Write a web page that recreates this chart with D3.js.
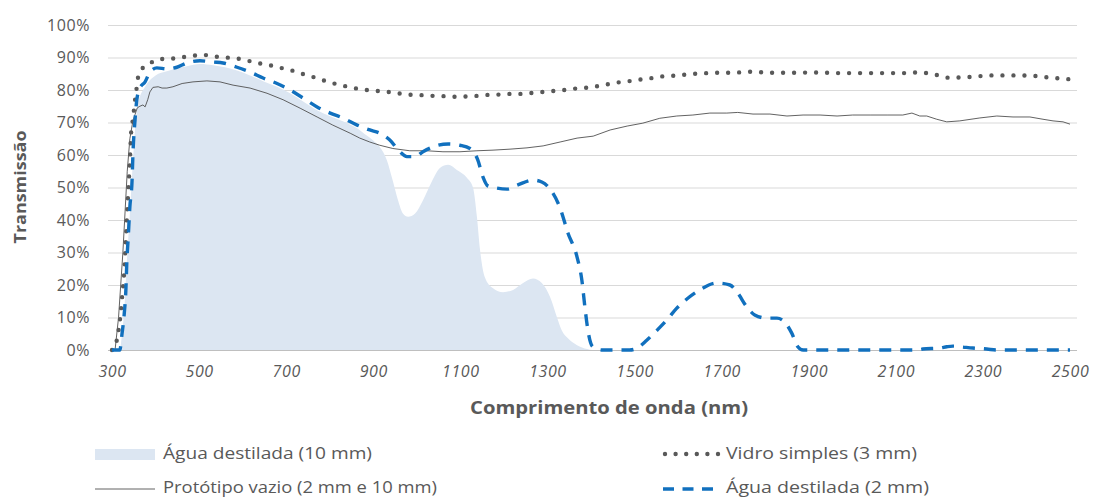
<!DOCTYPE html>
<html>
<head>
<meta charset="utf-8">
<script src="https://cdn.jsdelivr.net/npm/d3@7"></script>
<style>
  html, body { margin: 0; padding: 0; background: #fff; }
  svg { display: block; font-family: "Open Sans", "Noto Sans", sans-serif; }
</style>
</head>
<body>
<svg id="chart" width="1099" height="498"></svg>
<script>
// Transmission spectra (wavelength in nm, transmission in %)
const vidroNm = [300,306,311,318,323,328,333,337,341,344,348,353,356,360,369,385,408,433,458,484,509,537,562,587,612,638,663,688,713,736,762,785,810,835,860,886,911,936,961,989,1014,1037,1062,1090,1113,1138,1163,1189,1214,1239,1264,1290,1315,1340,1368,1391,1416,1439,1466,1492,1517,1542,1565,1590,1616,1641,1666,1692,1714,1737,1765,1816,1864,1917,1965,2018,2068,2118,2146,2171,2194,2220,2270,2321,2369,2422,2447,2500];
const vidroVal = [0,0.5,3,9,16,24,37,48,58,67,71,77,80,84,86.5,88,89.5,89.6,90,90.5,90.8,90.3,90,89.7,89,88.2,87.6,86.8,86,85,84,83,82,81.2,80.5,80,79.7,79.4,78.9,78.5,78.4,78.2,78.1,77.9,78,78.2,78.5,78.6,78.8,78.8,79.1,79.4,79.7,80,80.5,80.7,81.2,81.8,82.4,82.8,83.3,83.7,84.2,84.4,84.7,85,85.2,85.3,85.3,85.4,85.6,85.3,85.3,85.4,85.2,85.2,85.2,85.2,85.4,85.2,84.6,83.8,84,84.5,84.5,84.3,83.9,83.3];

const prototipoNm = [300,307,315,325,335,341,348,353,358,364,371,376,382,387,394,406,415,426,440,461,486,518,548,578,617,656,693,732,771,807,847,869,892,915,945,984,1023,1060,1099,1138,1175,1214,1253,1290,1329,1368,1405,1444,1483,1519,1558,1597,1634,1673,1712,1737,1772,1811,1850,1887,1926,1965,2001,2041,2080,2116,2137,2155,2171,2194,2217,2247,2293,2332,2369,2408,2438,2461,2484,2500];
const prototipoVal = [0,0,10,30,55,65,70.5,72.5,74.5,75,75.4,74.8,77,79.4,80.8,81,80.6,80.6,81,82,82.5,82.8,82.5,81.5,80.6,79,77,74.4,71.7,69.2,66.7,65.2,64,63,62,61.3,61.3,61,61,61.3,61.5,61.8,62.2,62.8,64,65.2,65.8,67.7,68.9,69.8,71.3,72,72.3,72.9,72.9,73.1,72.6,72.6,72,72.3,72.3,72,72.3,72.3,72.3,72.3,72.9,72,72,71,70.2,70.5,71.4,72,71.7,71.7,71,70.5,70.2,69.5];

const agua2Nm = [300,318,323,328,332,334,337,341,346,348,353,357,364,376,387,403,426,449,472,502,532,555,587,617,647,679,709,739,771,801,830,863,892,915,938,961,977,996,1014,1037,1072,1099,1122,1140,1152,1163,1184,1207,1232,1267,1287,1306,1329,1347,1368,1379,1386,1393,1404,1427,1489,1506,1528,1551,1574,1597,1623,1650,1689,1719,1737,1758,1776,1804,1827,1850,1861,1875,1887,2148,2162,2201,2217,2231,2254,2277,2309,2332,2500];
const agua2Val = [0,0,5,11,19,27,34,44,52,60,71,77,80.6,82.5,85.5,86.8,86.5,87,88.3,89,88.6,88.3,87,85.5,83.7,82,80,77.5,74.8,72.9,71.4,69.2,67.7,66.7,64.6,61,59.5,59.5,61,62.5,63.4,63,62,58.5,53.2,50.5,49.8,49.5,50.8,52.3,51.7,49.5,43.7,36,28.6,21.5,13.2,6,1,0,0,0.6,3,6,9.2,12.9,16,18.5,20.6,20,17.5,13.2,10.8,9.8,9.8,7.7,5.2,1,0,0,0.3,0.6,1,1.2,0.9,0.6,0.3,0,0];

const agua10Nm = [300,318,323,328,334,341,348,353,360,376,400,426,472,502,532,587,617,647,679,709,739,771,801,830,863,880,900,915,931,945,957,968,980,996,1014,1035,1053,1072,1092,1115,1129,1138,1145,1156,1175,1198,1221,1244,1267,1287,1306,1322,1333,1347,1368,1391,1404,2500];
const agua10Val = [0,0,5,12,27,42,58,68,76,81,84.5,85.8,87.3,88,87.6,86,84.5,82.7,81,79,76.5,73.8,71.9,70.4,68.2,66.5,64.5,62.5,58.5,52,46,42,41,42,46,52,56,57,55.4,53,50,41,31,22.5,19,17.8,18.5,20.6,22,20.6,16.3,10,6,3.6,1.5,0.3,0,0];

const xTicks = [300,500,700,900,1100,1300,1500,1700,1900,2100,2300,2500];
const yTicks = [0,10,20,30,40,50,60,70,80,90,100];

const seriesNames = ["Água destilada (10 mm)", "Vidro simples (3 mm)", "Protótipo vazio (2 mm e 10 mm)", "Água destilada (2 mm)"];
const xTitle = "Comprimento de onda (nm)";
const yTitle = "Transmissão";

const zip = (xs, ys) => xs.map((x, i) => ({x, y: ys[i]}));

const svg = d3.select("#chart");
const x = d3.scaleLinear().domain([300, 2500]).range([112, 1070]);
const y = d3.scaleLinear().domain([0, 100]).range([350, 25]);

const textColor = "#595959";
const gridLeft = 108, gridRight = 1077;

// Horizontal gridlines and y tick labels
const yAxis = d3.axisLeft(y).tickValues(yTicks).tickSize(gridLeft - gridRight).tickPadding(18)
  .tickFormat(d => d + "%");
const gy = svg.append("g").attr("transform", `translate(${gridLeft},0)`).call(yAxis);
gy.select(".domain").remove();
gy.selectAll(".tick line").attr("stroke", d => d === 0 ? "#bfbfbf" : "#d9d9d9").attr("stroke-width", 1);
gy.selectAll(".tick text").attr("fill", textColor).attr("font-size", 16)
  .attr("font-family", "'Open Sans', sans-serif").attr("letter-spacing", 0.6);

// X tick labels
const xAxis = d3.axisBottom(x).tickValues(xTicks).tickSize(0).tickPadding(16).tickFormat(d3.format("d"));
const gx = svg.append("g").attr("transform", "translate(0,350)").call(xAxis);
gx.select(".domain").remove();
gx.selectAll(".tick text").attr("fill", textColor).attr("font-size", 16)
  .attr("font-style", "italic").attr("font-family", "'Open Sans', sans-serif").attr("letter-spacing", 0.6);

// Series
const area = d3.area().x(d => x(d.x)).y0(y(0)).y1(d => y(d.y)).curve(d3.curveMonotoneX);
const smooth = d3.line().x(d => x(d.x)).y(d => y(d.y)).curve(d3.curveMonotoneX);
const straight = d3.line().x(d => x(d.x)).y(d => y(d.y));

svg.append("path").datum(zip(agua10Nm, agua10Val)).attr("d", area).attr("fill", "#dce6f2");

svg.append("path").datum(zip(prototipoNm, prototipoVal)).attr("d", straight)
  .attr("fill", "none").attr("stroke", "#505050").attr("stroke-width", 0.9);

svg.append("path").datum(zip(vidroNm, vidroVal)).attr("d", smooth)
  .attr("fill", "none").attr("stroke", "#595959").attr("stroke-width", 4.4)
  .attr("stroke-linecap", "round").attr("stroke-dasharray", "0 11");

svg.append("path").datum(zip(agua2Nm, agua2Val)).attr("d", smooth)
  .attr("fill", "none").attr("stroke", "#1170be").attr("stroke-width", 3.4)
  .attr("stroke-dasharray", "12 9");

// Axis titles
svg.append("text").attr("x", 609).attr("y", 414).attr("text-anchor", "middle")
  .attr("font-size", 17).attr("font-weight", "bold").attr("fill", textColor)
  .attr("textLength", 278).attr("lengthAdjust", "spacingAndGlyphs").text(xTitle);

svg.append("text").attr("transform", "translate(26,187) rotate(-90)").attr("text-anchor", "middle")
  .attr("font-size", 16).attr("font-weight", "bold").attr("fill", textColor)
  .attr("textLength", 113).attr("lengthAdjust", "spacingAndGlyphs").text(yTitle);

// Legend
const legend = svg.append("g");
const legendItems = [
  {name: seriesNames[0], sx: 95, tx: 163, ty: 459, w: 209, kind: "area"},
  {name: seriesNames[1], sx: 663, tx: 726, ty: 459, w: 191, kind: "dots"},
  {name: seriesNames[2], sx: 95, tx: 163, ty: 493, w: 274, kind: "thin"},
  {name: seriesNames[3], sx: 663, tx: 726, ty: 493, w: 203, kind: "dash"}
];
legendItems.forEach(it => {
  const cy = it.ty - 5;
  if (it.kind === "area") {
    legend.append("rect").attr("x", it.sx).attr("y", cy - 5).attr("width", 60).attr("height", 11).attr("fill", "#dce6f2");
  } else if (it.kind === "thin") {
    legend.append("line").attr("x1", it.sx).attr("x2", it.sx + 60).attr("y1", cy + 1).attr("y2", cy + 1)
      .attr("stroke", "#505050").attr("stroke-width", 0.9);
  } else if (it.kind === "dots") {
    legend.append("line").attr("x1", it.sx + 2).attr("x2", it.sx + 57).attr("y1", cy).attr("y2", cy)
      .attr("stroke", "#595959").attr("stroke-width", 4.4).attr("stroke-linecap", "round").attr("stroke-dasharray", "0 10.6");
  } else {
    legend.append("line").attr("x1", it.sx).attr("x2", it.sx + 56).attr("y1", cy + 1).attr("y2", cy + 1)
      .attr("stroke", "#1170be").attr("stroke-width", 3.4).attr("stroke-dasharray", "11 8.5");
  }
  legend.append("text").attr("x", it.tx).attr("y", it.ty).attr("font-size", 16).attr("fill", textColor)
    .attr("textLength", it.w).attr("lengthAdjust", "spacingAndGlyphs").text(it.name);
});
</script>
</body>
</html>
